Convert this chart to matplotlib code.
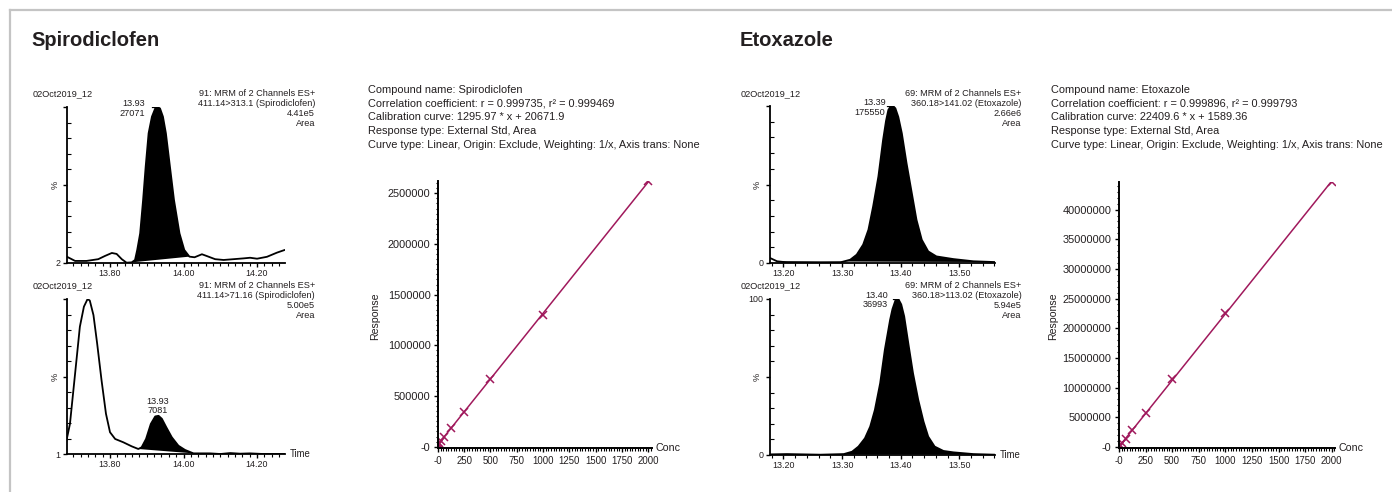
import numpy as np
import matplotlib
matplotlib.use("Agg")
import matplotlib.pyplot as plt
from matplotlib.ticker import FixedLocator, MultipleLocator
from matplotlib.lines import Line2D

plt.rcParams["font.family"] = ["Liberation Sans", "DejaVu Sans"]

W, H = 1392, 492
TXT = "#231f20"
CAL = "#a0195c"

# ---- chromatogram traces (time, % of axis) ----
spiro_q_t = [13.683, 13.705, 13.736, 13.768, 13.786, 13.805, 13.818, 13.832, 13.845, 13.859,
             13.868, 13.874, 13.882, 13.890, 13.897, 13.905, 13.914, 13.923, 13.929, 13.936,
             13.944, 13.952, 13.963, 13.974, 13.989, 14.002, 14.016, 14.030, 14.050, 14.063,
             14.086, 14.109, 14.136, 14.163, 14.181, 14.200, 14.227, 14.254, 14.274]
spiro_q_y = [5.9, 3.3, 3.3, 4.4, 6.4, 8.3, 7.7, 4.4, 2.2, 2.4,
             3.9, 10.2, 20.6, 41.6, 62.5, 83.5, 93.9, 99.1, 100, 99.1,
             93.9, 83.5, 62.5, 41.6, 20.6, 10.2, 6.0, 5.6, 7.5, 6.4,
             4.4, 3.9, 4.4, 4.9, 5.3, 4.7, 5.9, 8.5, 10.1]
spiro_c_t = [13.680, 13.691, 13.705, 13.718, 13.729, 13.739, 13.745, 13.755, 13.765, 13.777,
             13.789, 13.800, 13.814, 13.836, 13.859, 13.877, 13.886, 13.898, 13.911, 13.923,
             13.932, 13.941, 13.953, 13.968, 13.986, 14.004, 14.027, 14.072, 14.100, 14.127,
             14.154, 14.181, 14.217, 14.274]
spiro_c_y = [7.8, 20.2, 52.3, 82.3, 95.1, 100, 99.0, 89.7, 71.6, 48.0,
             26.7, 14.9, 10.6, 8.5, 5.9, 4.2, 5.3, 10.6, 20.2, 25.0,
             25.4, 23.5, 18.1, 11.7, 6.3, 3.6, 1.4, 1.4, 1.0, 1.6,
             1.2, 1.4, 1.0, 1.0]
etox_q_t = [13.177, 13.189, 13.206, 13.263, 13.297, 13.314, 13.325, 13.336, 13.345, 13.353,
            13.362, 13.370, 13.375, 13.379, 13.383, 13.387, 13.391, 13.396, 13.402, 13.410,
            13.419, 13.427, 13.436, 13.447, 13.461, 13.490, 13.524, 13.561]
etox_q_y = [3.2, 1.1, 0.4, 0.2, 0.4, 2.1, 5.3, 11.7, 21.2, 36.0,
            55.1, 78.4, 90.5, 97.5, 99.8, 100, 98.5, 93.0, 82.6, 63.6,
            44.5, 27.5, 14.8, 7.4, 4.2, 2.5, 1.1, 0.6]
etox_c_t = [13.177, 13.206, 13.263, 13.303, 13.317, 13.328, 13.339, 13.348, 13.356, 13.365,
            13.373, 13.382, 13.386, 13.391, 13.396, 13.401, 13.406, 13.413, 13.421, 13.430,
            13.439, 13.447, 13.458, 13.473, 13.490, 13.524, 13.561]
etox_c_y = [0.4, 0.6, 0.2, 0.6, 2.1, 5.4, 10.7, 18.2, 28.9, 46.0,
            67.5, 86.7, 93.5, 99.0, 100, 96.5, 88.9, 71.7, 52.5, 35.3,
            21.4, 11.8, 5.4, 2.6, 1.7, 0.6, 0.2]

# ---- calibration ----
conc = [1, 2.5, 5, 10, 25, 62.5, 125, 250, 500, 1000, 2000]
spiro_resp = [21500, 24500, 27000, 34000, 52000, 98000, 181000, 345000, 668000, 1299000, 2620000]
etox_resp = [24000, 57000, 114000, 226000, 565000, 1350000, 2850000, 5650000, 11350000, 22600000, 44600000]
spiro_fit = (1295.97, 20671.9)
etox_fit = (22409.6, 1589.36)
conc_ticks = [0, 250, 500, 750, 1000, 1250, 1500, 1750, 2000]
conc_labels = ["-0", "250", "500", "750", "1000", "1250", "1500", "1750", "2000"]
spiro_yticks = [0, 500000, 1000000, 1500000, 2000000, 2500000]
etox_yticks = [0, 5000000, 10000000, 15000000, 20000000, 25000000, 30000000, 35000000, 40000000]

spiro_info = ["Compound name: Spirodiclofen",
              "Correlation coefficient: r = 0.999735, r\u00b2 = 0.999469",
              "Calibration curve: 1295.97 * x + 20671.9",
              "Response type: External Std, Area",
              "Curve type: Linear, Origin: Exclude, Weighting: 1/x, Axis trans: None"]
etox_info = ["Compound name: Etoxazole",
             "Correlation coefficient: r = 0.999896, r\u00b2 = 0.999793",
             "Calibration curve: 22409.6 * x + 1589.36",
             "Response type: External Std, Area",
             "Curve type: Linear, Origin: Exclude, Weighting: 1/x, Axis trans: None"]

fig = plt.figure(figsize=(W / 100, H / 100), dpi=100)


def ax_px(l, t, r, b):
    return fig.add_axes([l / W, 1 - b / H, (r - l) / W, (b - t) / H])


def ftext(x, y, s, **kw):
    kw.setdefault("color", TXT)
    kw.setdefault("va", "center")
    fig.text(x / W, 1 - y / H, s, **kw)


def chrom(ax, t, y, i0, i1, xlim, xmaj, ylo, ylab, toplab="", apex=True, time=False):
    t = np.array(t)
    y = np.array(y)
    ax.fill(t[i0:i1 + 1], y[i0:i1 + 1], color="black", lw=0)
    ax.plot(t, y, color="black", lw=1.3, solid_joinstyle="round")
    if apex:
        k = np.argmax(y)
        ax.plot([t[k] - 0.025 * (xlim[1] - xlim[0]), t[k]], [y[k], y[k]], color="black", lw=0.9)
    ax.set_xlim(*xlim)
    ax.set_ylim(ylo, 100)
    for s in ("top", "right"):
        ax.spines[s].set_visible(False)
    for s in ("left", "bottom"):
        ax.spines[s].set_linewidth(1.3)
    ax.set_xticks(xmaj)
    ax.set_xticklabels([f"{v:.2f}" for v in xmaj], fontsize=6.4, color=TXT)
    ax.xaxis.set_minor_locator(MultipleLocator(0.02))
    ax.set_yticks([ylo, (ylo + 100) / 2, 100])
    ax.set_yticklabels([ylab, "", toplab], fontsize=6.4, color=TXT)
    ax.yaxis.set_minor_locator(FixedLocator(np.linspace(ylo, 100, 11)[1:-1]))
    ax.tick_params(axis="x", which="major", direction="out", length=3, width=1, pad=1)
    ax.tick_params(axis="x", which="minor", direction="out", length=1.8, width=0.8)
    ax.tick_params(axis="y", which="major", direction="out", length=3, width=1, pad=1.5)
    ax.tick_params(axis="y", which="minor", direction="in", length=3, width=0.8)
    ax.text(-0.055, 0.5, "%", rotation=90, transform=ax.transAxes, ha="center", va="center",
            fontsize=6.6, color=TXT)
    if time:
        ax.text(1.02, 0.0, "Time", transform=ax.transAxes, ha="left", va="center",
                fontsize=6.9, color=TXT)
    ax.patch.set_alpha(0)


def calib(ax, resp, fit, xlim, ylim, yticks, yminor):
    xs = np.array([0, conc[-1]])
    ax.plot(xs, fit[0] * xs + fit[1], color=CAL, lw=1.1)
    ax.plot(conc, resp, "x", color=CAL, ms=5.5, mew=1.1)
    ax.set_xlim(*xlim)
    ax.set_ylim(*ylim)
    for s in ("top", "right"):
        ax.spines[s].set_visible(False)
    for s in ("left", "bottom"):
        ax.spines[s].set_linewidth(1.4)
    ax.set_xticks(conc_ticks)
    ax.set_xticklabels(conc_labels, fontsize=6.9, color=TXT)
    ax.xaxis.set_minor_locator(MultipleLocator(25))
    ax.set_yticks(yticks)
    ax.set_yticklabels(["-0"] + [str(v) for v in yticks[1:]], fontsize=7.9, color=TXT)
    ax.yaxis.set_minor_locator(MultipleLocator(yminor))
    ax.tick_params(which="major", direction="out", length=3, width=1, pad=2)
    ax.tick_params(which="minor", direction="out", length=1.8, width=0.8)
    ax.tick_params(axis="x", which="major", pad=3)
    ax.text(1.015, 0.0, "Conc", transform=ax.transAxes, ha="left", va="center",
            fontsize=7.7, color=TXT)
    ax.patch.set_alpha(0)


# border
fig.add_artist(Line2D([10 / W, 10 / W], [0, 1 - 10 / H], transform=fig.transFigure, color="#c4c4c4", lw=1.6))
fig.add_artist(Line2D([10 / W, 1], [1 - 10 / H, 1 - 10 / H], transform=fig.transFigure, color="#c4c4c4", lw=1.6))

# titles
ftext(31.5, 46, "Spirodiclofen", fontsize=14.5, weight="bold", va="baseline")
ftext(740, 46, "Etoxazole", fontsize=14.5, weight="bold", va="baseline")

# chromatograms
ax1 = ax_px(67, 107, 285, 263)
chrom(ax1, spiro_q_t, spiro_q_y, 9, 26, (13.683, 14.276), [13.80, 14.00, 14.20], 2, "2")
ax2 = ax_px(67, 299, 285, 454)
chrom(ax2, spiro_c_t, spiro_c_y, 15, 26, (13.683, 14.276), [13.80, 14.00, 14.20], 1, "1",
      apex=False, time=True)
ax3 = ax_px(770, 106, 995, 263)
chrom(ax3, etox_q_t, etox_q_y, 1, len(etox_q_t) - 1, (13.177, 13.561), [13.20, 13.30, 13.40, 13.50], 0, "0")
ax4 = ax_px(770, 299, 995, 455)
chrom(ax4, etox_c_t, etox_c_y, 0, len(etox_c_t) - 1, (13.177, 13.561), [13.20, 13.30, 13.40, 13.50], 0, "0",
      toplab="100", time=True)

fs = 6.6
heads = [
    (33, 315, 93.5, ["91: MRM of 2 Channels ES+", "411.14>313.1 (Spirodiclofen)", "4.41e5", "Area"]),
    (33, 315, 285.5, ["91: MRM of 2 Channels ES+", "411.14>71.16 (Spirodiclofen)", "5.00e5", "Area"]),
    (740.5, 1021.5, 93.5, ["69: MRM of 2 Channels ES+", "360.18>141.02 (Etoxazole)", "2.66e6", "Area"]),
    (740.5, 1021.5, 285.5, ["69: MRM of 2 Channels ES+", "360.18>113.02 (Etoxazole)", "5.94e5", "Area"]),
]
for xl, xr, y0, lines in heads:
    ftext(xl, y0, "02Oct2019_12", fontsize=fs)
    for i, s in enumerate(lines):
        ftext(xr, y0 + 10 * i, s, fontsize=fs, ha="right")

# peak labels
ftext(145, 103.3, "13.93", fontsize=fs, ha="right")
ftext(145, 113.3, "27071", fontsize=fs, ha="right")
ftext(158, 401.5, "13.93", fontsize=fs, ha="center")
ftext(158, 410.5, "7081", fontsize=fs, ha="center")
ftext(885.5, 102.7, "13.39", fontsize=fs, ha="right")
ftext(885.5, 112.7, "175550", fontsize=fs, ha="right")
ftext(888, 295, "13.40", fontsize=fs, ha="right")
ftext(888, 304.5, "36993", fontsize=fs, ha="right")

# calibration text blocks
for x0, info in ((368.3, spiro_info), (1050.7, etox_info)):
    for i, s in enumerate(info):
        ftext(x0, 90 + 13.75 * i, s, fontsize=7.9)

# calibration plots
ax5 = ax_px(437.5, 181, 652, 447.7)
calib(ax5, spiro_resp, spiro_fit, (-4, 2036), (-10000, 2622000), spiro_yticks, 50000)
ax6 = ax_px(1118.5, 181.7, 1335, 447.7)
calib(ax6, etox_resp, etox_fit, (-4, 2030), (-150000, 44700000), etox_yticks, 1000000)
ftext(375, 316.7, "Response", fontsize=7.6, rotation=90, ha="center")
ftext(1053.3, 316.7, "Response", fontsize=7.6, rotation=90, ha="center")

fig.savefig("out.png", dpi=100)
